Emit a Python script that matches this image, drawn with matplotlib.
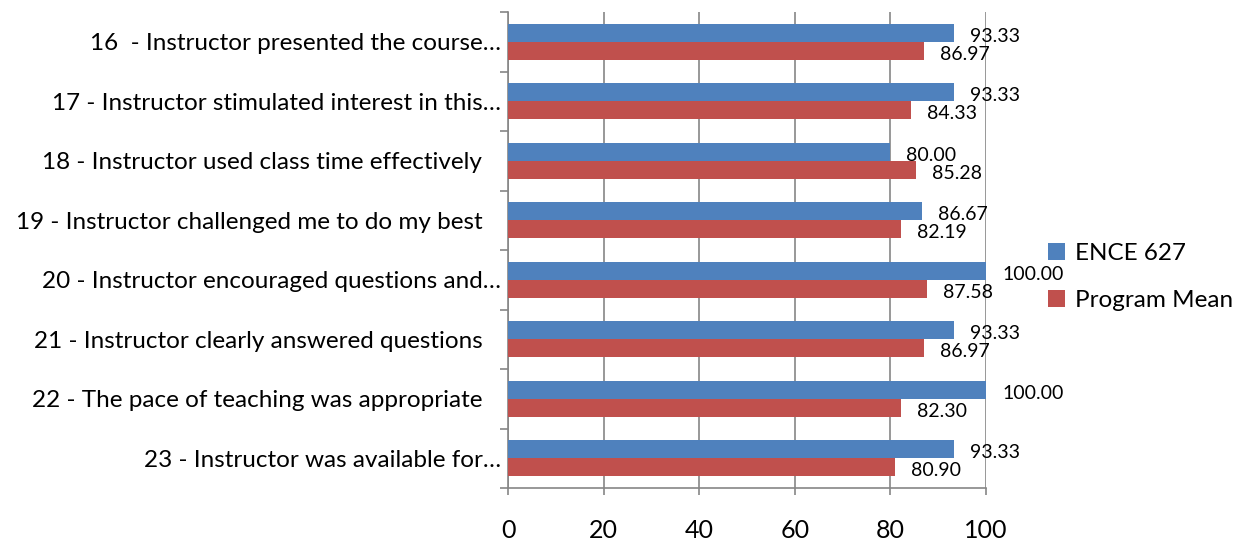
import numpy as np
import matplotlib.pyplot as plt

plt.rcParams['font.family'] = ['Lato', 'DejaVu Sans']

questions = [
    "16  - Instructor presented the course\u2026",
    "17 - Instructor stimulated interest in this\u2026",
    "18 - Instructor used class time effectively   ",
    "19 - Instructor challenged me to do my best   ",
    "20 - Instructor encouraged questions and\u2026",
    "21 - Instructor clearly answered questions   ",
    "22 - The pace of teaching was appropriate   ",
    "23 - Instructor was available for\u2026",
]
ence_627 = [93.33, 93.33, 80.00, 86.67, 100.00, 93.33, 100.00, 93.33]
program_mean = [86.97, 84.33, 85.28, 82.19, 87.58, 86.97, 82.30, 80.90]

blue = '#4F81BD'
red = '#C0504D'
grid_gray = '#868686'

fig = plt.figure(figsize=(12.39, 5.40), dpi=100)
ax = fig.add_axes([508/1239, 1 - 488/540, (986 - 508)/1239, (488 - 12)/540])

y = np.arange(len(questions))
h = 0.3
b1 = ax.barh(y - h/2, ence_627, height=h, color=blue, label='ENCE 627', zorder=3)
b2 = ax.barh(y + h/2, program_mean, height=h, color=red, label='Program Mean', zorder=3)

# value labels just past the end of each bar
for bars, vals in ((b1, ence_627), (b2, program_mean)):
    for bar, v in zip(bars, vals):
        ax.annotate(f'{v:.2f}', xy=(v, bar.get_y() + bar.get_height()/2),
                    xytext=(11.5, -2.5), textcoords='offset points',
                    ha='left', va='center', fontsize=14, color='black', zorder=4,
                    annotation_clip=False)

ax.set_xlim(0, 100)
ax.set_ylim(len(questions) - 0.5, -0.5)
ax.set_xticks(np.arange(0, 101, 20))
ax.xaxis.grid(True, color=grid_gray, linewidth=1.2, zorder=0)
ax.tick_params(axis='x', length=5, width=1.2, color=grid_gray, pad=17, labelsize=18)

ax.set_yticks(y)
ax.set_yticklabels(questions, fontsize=17.5)
ax.set_yticks(np.arange(len(questions) + 1) - 0.5, minor=True)
ax.tick_params(axis='y', which='major', length=0, pad=5)
ax.tick_params(axis='y', which='minor', length=6, width=1.2, color=grid_gray)

for side in ('top', 'right'):
    ax.spines[side].set_visible(False)
for side in ('left', 'bottom'):
    ax.spines[side].set_color(grid_gray)
    ax.spines[side].set_linewidth(1.2)

fig.legend(handles=[b1, b2], loc='center left',
           bbox_to_anchor=(1048/1239, 1 - 277/540), frameon=False,
           fontsize=17.5, handlelength=0.7, handleheight=0.7,
           handletextpad=0.4, labelspacing=1.08, borderpad=0, borderaxespad=0)

fig.savefig('out.png', dpi=100)
